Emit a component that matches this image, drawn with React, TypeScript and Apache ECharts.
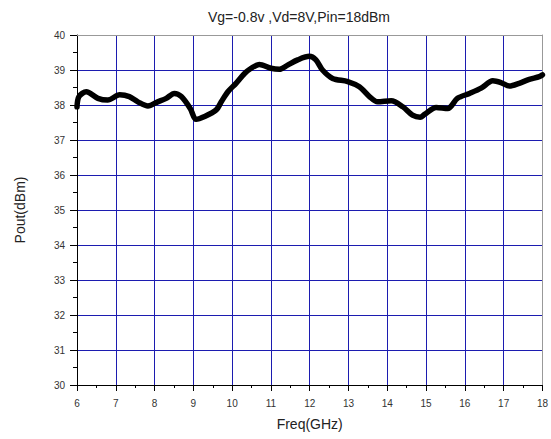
import React, { useEffect, useRef } from "react";
import * as echarts from "echarts";

const titleText = "Vg=-0.8v ,Vd=8V,Pin=18dBm";
const xName = "Freq(GHz)";
const yName = "Pout(dBm)";

const freq = [
  6.0, 6.05, 6.24, 6.54, 6.79, 7.1, 7.35, 7.57, 7.83, 8.08, 8.3, 8.51, 8.69, 8.92,
  9.07, 9.29, 9.59, 9.72, 9.89, 10.1, 10.32, 10.49, 10.7, 11.0, 11.22, 11.43, 11.69,
  11.99, 12.16, 12.33, 12.59, 12.98, 13.28, 13.54, 13.75, 14.1, 14.4, 14.65, 14.85,
  14.96, 15.26, 15.56, 15.81, 16.12, 16.42, 16.72, 16.93, 17.15, 17.4, 17.66, 17.92, 18.0,
];
const pout = [
  37.95, 38.24, 38.38, 38.19, 38.14, 38.29, 38.24, 38.09, 37.97, 38.09, 38.19, 38.33,
  38.24, 37.9, 37.59, 37.67, 37.86, 38.09, 38.38, 38.62, 38.9, 39.05, 39.16, 39.05,
  39.02, 39.14, 39.29, 39.39, 39.29, 39.0, 38.76, 38.67, 38.52, 38.24, 38.09, 38.12,
  37.95, 37.71, 37.65, 37.73, 37.93, 37.9, 38.19, 38.33, 38.48, 38.69, 38.64, 38.54,
  38.62, 38.73, 38.81, 38.86,
];

const FONT = "Liberation Sans";

export default function App() {
  const ref = useRef<HTMLDivElement>(null);
  useEffect(() => {
    if (!ref.current) return;
    const chart = echarts.init(ref.current, undefined, { renderer: "svg" });
    const data = freq.map((f, i) => [f, pout[i]]);
    chart.setOption({
      animation: false,
      backgroundColor: "#ffffff",
      title: {
        text: titleText,
        left: 203,
        top: 5,
        textStyle: { fontFamily: FONT, fontSize: 14, fontWeight: "normal", color: "#222" },
      },
      grid: { left: 77, right: 8, top: 35, bottom: 54, show: false },
      xAxis: [
        {
          type: "value",
          min: 6,
          max: 18,
          interval: 1,
          name: xName,
          nameLocation: "middle",
          nameGap: 32,
          nameTextStyle: { fontFamily: FONT, fontSize: 14, color: "#222" },
          axisLine: { show: true, onZero: false, lineStyle: { color: "#000", width: 1 } },
          axisTick: { show: true, inside: false, length: 6, lineStyle: { color: "#000" } },
          minorTick: { show: true, splitNumber: 2, length: 3, lineStyle: { color: "#000" } },
          axisLabel: { fontFamily: FONT, fontSize: 10, color: "#333", margin: 13, showMaxLabel: true },
          splitLine: { show: true, lineStyle: { color: "#1c1cb0", width: 1 } },
        },
        {
          type: "value",
          position: "top",
          min: 6,
          max: 18,
          interval: 1,
          axisLine: { show: true, onZero: false, lineStyle: { color: "#999", width: 1 } },
          axisTick: { show: false },
          axisLabel: { show: false },
          splitLine: { show: false },
        },
      ],
      yAxis: [
        {
          type: "value",
          min: 30,
          max: 40,
          interval: 1,
          name: yName,
          nameLocation: "middle",
          nameGap: 50,
          nameTextStyle: { fontFamily: FONT, fontSize: 14, color: "#222" },
          axisLine: { show: true, onZero: false, lineStyle: { color: "#000", width: 1 } },
          axisTick: { show: true, inside: false, length: 7, lineStyle: { color: "#000" } },
          minorTick: { show: true, splitNumber: 2, length: 4, lineStyle: { color: "#000" } },
          axisLabel: { fontFamily: FONT, fontSize: 10, color: "#333", margin: 12 },
          splitLine: { show: true, lineStyle: { color: "#1c1cb0", width: 1 } },
        },
        {
          type: "value",
          position: "right",
          min: 30,
          max: 40,
          interval: 1,
          axisLine: { show: true, onZero: false, lineStyle: { color: "#999", width: 1 } },
          axisTick: { show: false },
          axisLabel: { show: false },
          splitLine: { show: false },
        },
      ],
      series: [
        {
          type: "line",
          data,
          xAxisIndex: 0,
          yAxisIndex: 0,
          symbol: "none",
          smooth: 0.3,
          lineStyle: { color: "#000", width: 5.5, cap: "round", join: "round" },
          z: 5,
        },
      ],
    });
    return () => chart.dispose();
  }, []);
  return (
    <div
      ref={ref}
      style={{ position: "absolute", left: 0, top: 0, width: 551, height: 439 }}
    />
  );
}
